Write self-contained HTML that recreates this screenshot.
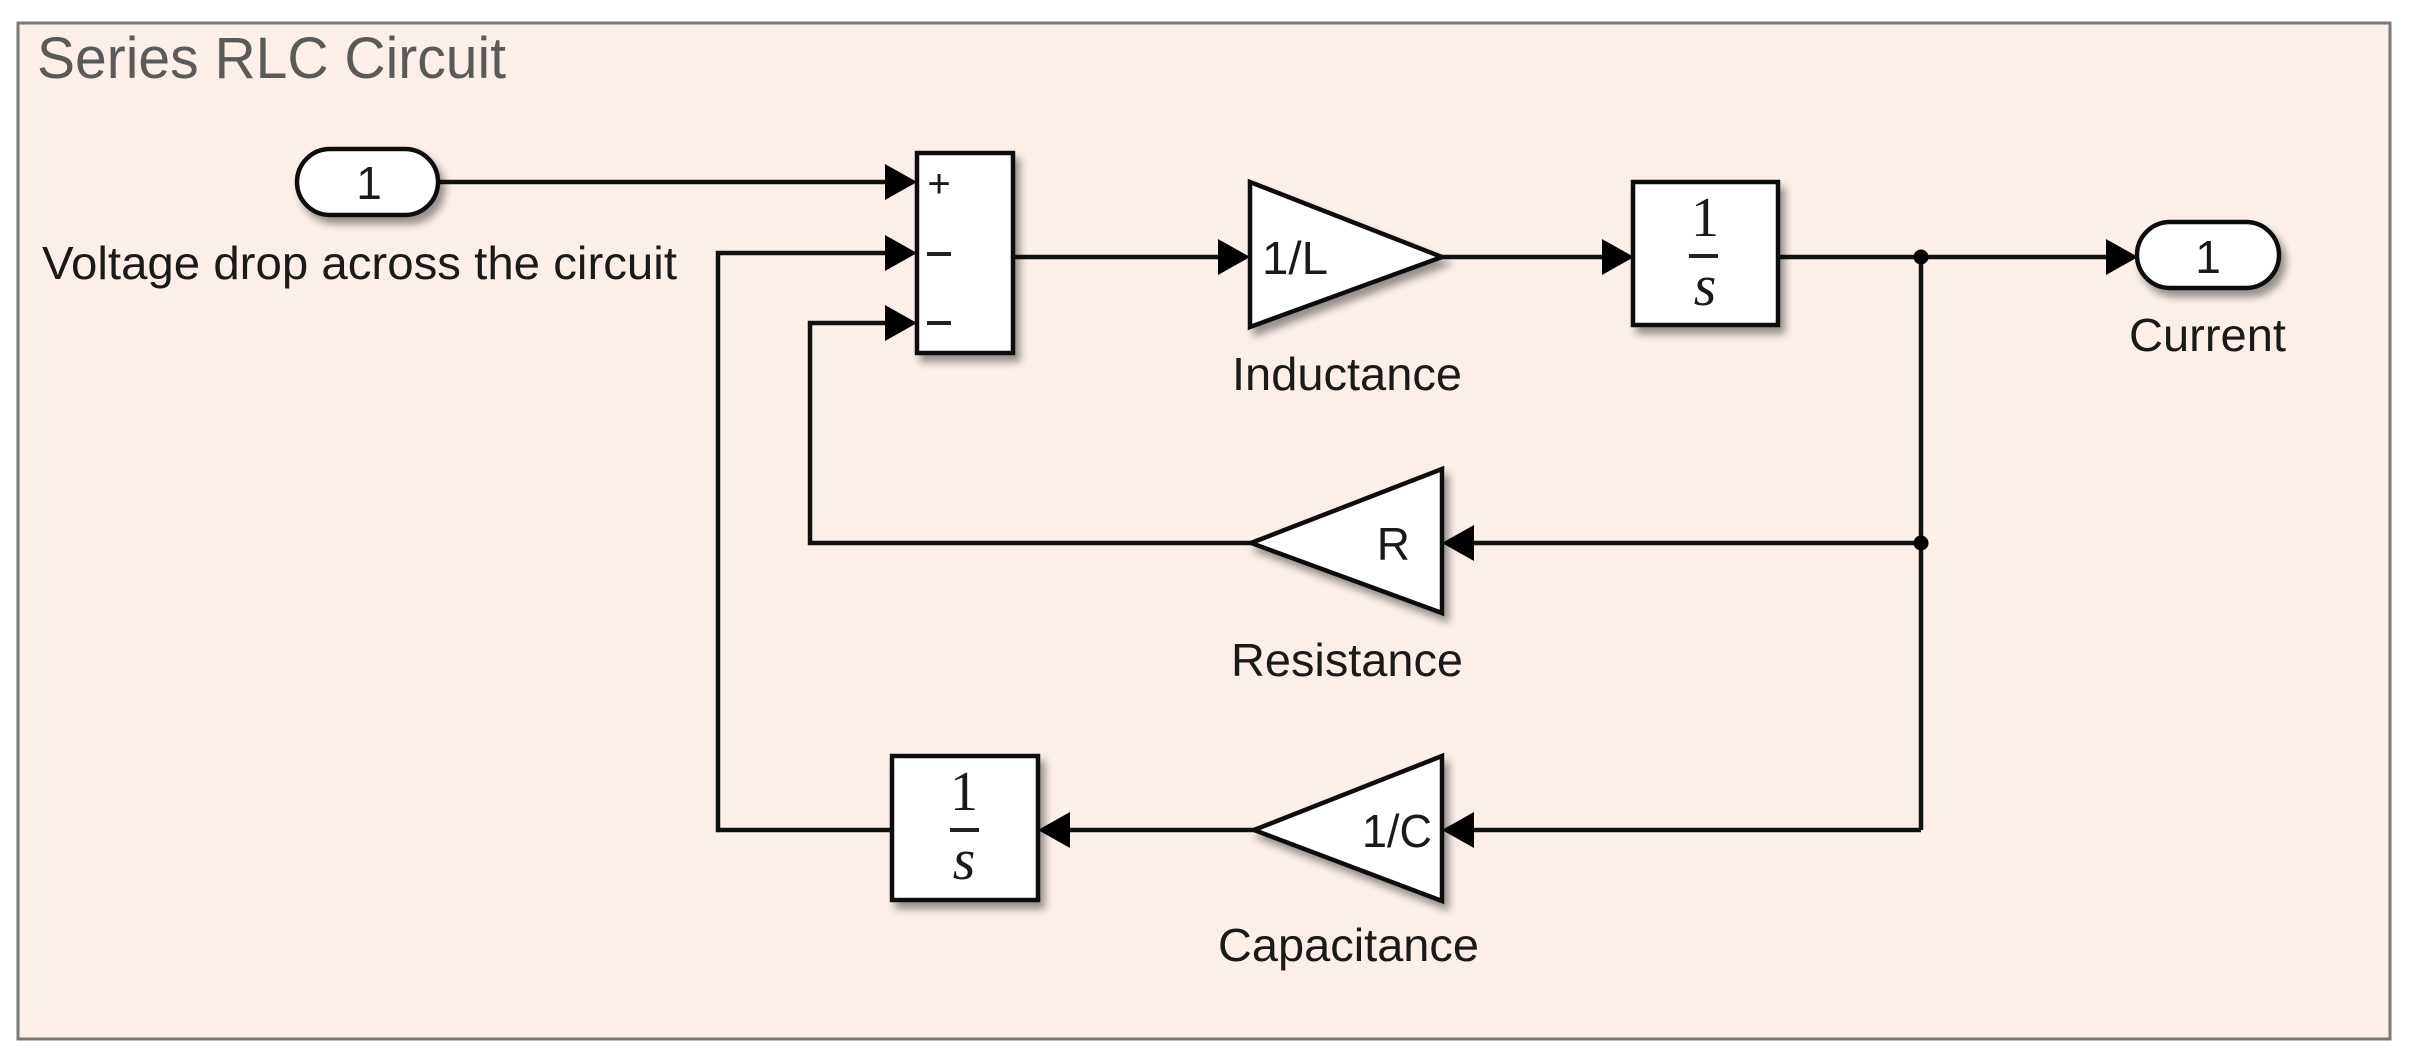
<!DOCTYPE html>
<html><head><meta charset="utf-8"><style>
html,body{margin:0;padding:0;background:#fff;}
svg{display:block;}
text{font-family:"Liberation Sans",sans-serif;fill:#1a1a1a;}
.serif{font-family:"Liberation Serif",serif;}
</style></head><body>
<svg width="2413" height="1062" viewBox="0 0 2413 1062" xmlns="http://www.w3.org/2000/svg">
<defs>
<filter id="sh" x="-20%" y="-20%" width="150%" height="150%">
<feGaussianBlur in="SourceAlpha" stdDeviation="4"/>
<feOffset dx="5" dy="7" result="o"/>
<feComponentTransfer><feFuncA type="linear" slope="0.4"/></feComponentTransfer>
<feMerge><feMergeNode/><feMergeNode in="SourceGraphic"/></feMerge>
</filter>
</defs>
<rect x="18" y="23" width="2372" height="1016" fill="#fcefea" stroke="#7a7a7a" stroke-width="3"/>
<text x="37" y="78" font-size="58" textLength="469" lengthAdjust="spacingAndGlyphs" style="fill:#5a5a5a">Series RLC Circuit</text>

<g stroke="#111" stroke-width="4.5" fill="none">
<line x1="438" y1="182" x2="890" y2="182"/>
<line x1="1013" y1="257" x2="1222" y2="257"/>
<line x1="1442" y1="257" x2="1606" y2="257"/>
<line x1="1778" y1="257" x2="2110" y2="257"/>
<line x1="1921" y1="257" x2="1921" y2="830"/>
<line x1="1921" y1="543" x2="1470" y2="543"/>
<line x1="1921" y1="830" x2="1470" y2="830"/>
<polyline points="1251,543 810,543 810,323 890,323"/>
<line x1="1254" y1="830" x2="1066" y2="830"/>
<polyline points="892,830 718,830 718,253 890,253"/>
</g>
<g fill="#000">
<polygon points="885,164 917,182 885,200"/>
<polygon points="885,235 917,253 885,271"/>
<polygon points="885,305 917,323 885,341"/>
<polygon points="1218,239 1250,257 1218,275"/>
<polygon points="1602,239 1634,257 1602,275"/>
<polygon points="2106,239 2138,257 2106,275"/>
<polygon points="1474,525 1442,543 1474,561"/>
<polygon points="1474,812 1442,830 1474,848"/>
<polygon points="1070,812 1038,830 1070,848"/>
<circle cx="1921" cy="257" r="7.5"/>
<circle cx="1921" cy="543" r="7.5"/>
</g>

<g filter="url(#sh)" stroke="#111" stroke-width="4.5" fill="#fff">
<rect x="297" y="149" width="141" height="66" rx="33"/>
<rect x="917" y="153" width="96" height="200"/>
<polygon points="1250,182 1442,257 1250,327"/>
<rect x="1633" y="182" width="145" height="143"/>
<rect x="2137" y="222" width="142" height="66" rx="33"/>
<polygon points="1442,469 1251,543 1442,613"/>
<polygon points="1442,756 1254,830 1442,901"/>
<rect x="892" y="756" width="146" height="144"/>
</g>

<text x="369" y="199" font-size="46" text-anchor="middle">1</text>
<text x="2208" y="273" font-size="46" text-anchor="middle">1</text>
<text x="42" y="279" font-size="46" textLength="635" lengthAdjust="spacingAndGlyphs">Voltage drop across the circuit</text>
<text x="2129" y="351" font-size="46" textLength="157" lengthAdjust="spacingAndGlyphs">Current</text>
<text x="1232" y="390" font-size="46" textLength="230" lengthAdjust="spacingAndGlyphs">Inductance</text>
<text x="1231" y="676" font-size="46" textLength="232" lengthAdjust="spacingAndGlyphs">Resistance</text>
<text x="1218" y="961" font-size="46" textLength="261" lengthAdjust="spacingAndGlyphs">Capacitance</text>

<text x="939" y="197" font-size="40" text-anchor="middle">+</text>
<line x1="927" y1="254" x2="951" y2="254" stroke="#222" stroke-width="4"/>
<line x1="927" y1="323" x2="951" y2="323" stroke="#222" stroke-width="4"/>

<text x="1262" y="274" font-size="46" textLength="66" lengthAdjust="spacingAndGlyphs">1/L</text>
<text x="1410" y="560" font-size="46" text-anchor="end">R</text>
<text x="1432" y="847" font-size="46" text-anchor="end" textLength="70" lengthAdjust="spacingAndGlyphs">1/C</text>

<text class="serif" x="1705" y="236" font-size="56" text-anchor="middle">1</text>
<line x1="1689" y1="256" x2="1718" y2="256" stroke="#222" stroke-width="4"/>
<text class="serif" x="1705" y="305" font-size="58" font-style="italic" text-anchor="middle">s</text>
<text class="serif" x="964" y="810" font-size="56" text-anchor="middle">1</text>
<line x1="950" y1="830" x2="979" y2="830" stroke="#222" stroke-width="4"/>
<text class="serif" x="964" y="879" font-size="58" font-style="italic" text-anchor="middle">s</text>
</svg>
</body></html>
